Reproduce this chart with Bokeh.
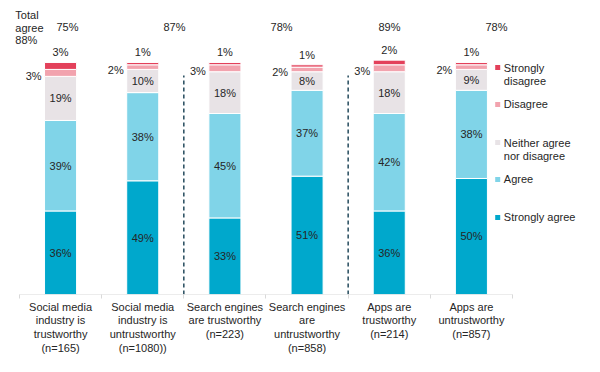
from bokeh.plotting import figure
from bokeh.models import ColumnDataSource, FixedTicker, Range1d
from bokeh.core.properties import value
from bokeh.embed import file_html
from bokeh.resources import INLINE

categories = ["Social media\nindustry is\ntrustworthy\n(n=165)",
              "Social media\nindustry is\nuntrustworthy\n(n=1080))",
              "Search engines\nare trustworthy\n(n=223)",
              "Search engines\nare\nuntrustworthy\n(n=858)",
              "Apps are\ntrustworthy\n(n=214)",
              "Apps are\nuntrustworthy\n(n=857)"]
strongly_agree = [36, 49, 33, 51, 36, 50]
agree = [39, 38, 45, 37, 42, 38]
neither = [19, 10, 18, 8, 18, 9]
disagree = [3, 2, 3, 2, 3, 2]
strongly_disagree = [3, 1, 1, 1, 2, 1]
total_agree_labels = ["75%", "87%", "78%", "89%", "78%"]
total_agree_title = ["Total", "agree", "88%"]
series_names = ["Strongly\ndisagree", "Disagree", "Neither agree\nnor disagree", "Agree", "Strongly agree"]
colors = ["#E3405A", "#F2A3AE", "#E8E3E6", "#80D4E8", "#00A8CC"]

FONT = value("Liberation Sans")
TXT = "#262626"

p = figure(width=600, height=372, output_backend="svg", toolbar_location=None,
           x_range=Range1d(-0.231, 7.071), y_range=Range1d(0, 126.7),
           min_border_left=0, min_border_right=0, min_border_top=0, min_border_bottom=78)
p.outline_line_color = None
p.grid.visible = False
p.yaxis.visible = False
p.background_fill_color = "white"

xs = [i + 0.5 for i in range(len(categories))]
stack_order = [strongly_agree, agree, neither, disagree, strongly_disagree]
stack_colors = [colors[4], colors[3], colors[2], colors[1], colors[0]]
bottoms = [0] * len(categories)
mids = []
tops_all = []
for vals, col in zip(stack_order, stack_colors):
    tops = [b + v for b, v in zip(bottoms, vals)]
    src = ColumnDataSource(dict(x=xs, bottom=bottoms, top=tops))
    p.vbar(x="x", bottom="bottom", top="top", width=0.39, source=src,
           fill_color=col, line_color="white", line_width=1)
    mids.append([(b + t) / 2 for b, t in zip(bottoms, tops)])
    tops_all.append(tops)
    bottoms = tops

# labels inside bars for the three big segments
for k, vals in enumerate(stack_order[:3]):
    p.text(x=xs, y=mids[k], text=[f"{v}%" for v in vals], text_align="center",
           text_baseline="middle", text_font=FONT, text_font_size="11px", text_color=TXT)
# disagree labels to the left of bars
p.text(x=[x - 0.195 for x in xs], y=mids[3], text=[f"{v}%" for v in disagree],
       text_align="right", text_baseline="middle", x_offset=-3, y_offset=3,
       text_font=FONT, text_font_size="11px", text_color=TXT)
# strongly disagree labels above bars
p.text(x=xs, y=tops_all[4], text=[f"{v}%" for v in strongly_disagree],
       text_align="center", text_baseline="bottom", y_offset=-4,
       text_font=FONT, text_font_size="11px", text_color=TXT)

# total agree row
p.text(x=[0.584, 1.886, 3.189, 4.503, 5.805], y=[115.1] * 5, text=total_agree_labels,
       text_align="center", text_baseline="middle",
       text_font=FONT, text_font_size="11px", text_color=TXT)
p.text(x=[-0.05] * 3, y=[120.3, 115.0, 109.5], text=total_agree_title,
       text_align="left", text_baseline="middle",
       text_font=FONT, text_font_size="11px", text_color=TXT)

# dashed separators
p.segment(x0=[2, 4], y0=[0, 0], x1=[2, 4], y1=[94.4, 94.4], line_color="#244A5C",
          line_width=1.5, line_dash="4 3")

# baseline
p.segment(x0=[0], y0=[0], x1=[6], y1=[0], line_color="#D9D9D9", line_width=1)

# legend
leg_y = [97.8, 81.9, 65.5, 49.6, 33.2]
p.scatter(x=[5.82] * 5, y=leg_y, marker="square", size=5, fill_color=colors, line_color=None)
lx, ly, lt = [], [], []
for name, yy in zip(series_names, leg_y):
    for j, line in enumerate(name.split("\n")):
        lx.append(5.895)
        ly.append(yy - j * 5.6)
        lt.append(line)
p.text(x=lx, y=ly, text=lt, text_align="left", text_baseline="middle",
       text_font=FONT, text_font_size="11px", text_color=TXT)

# x axis
ax = p.xaxis[0]
ax.ticker = FixedTicker(ticks=xs, minor_ticks=list(range(0, 7)))
ax.major_label_overrides = {x: c for x, c in zip(xs, categories)}
ax.axis_line_color = None
ax.major_tick_line_color = None
ax.major_tick_out = 0
ax.minor_tick_line_color = "#D9D9D9"
ax.minor_tick_out = 4
ax.minor_tick_in = 0
ax.major_label_standoff = 2
ax.major_label_text_font = "Liberation Sans"
ax.major_label_text_font_size = "11px"
ax.major_label_text_line_height = 1.15
ax.major_label_text_color = TXT
ax.major_label_text_align = "center"

open("out.html", "w").write(file_html(p, INLINE))
